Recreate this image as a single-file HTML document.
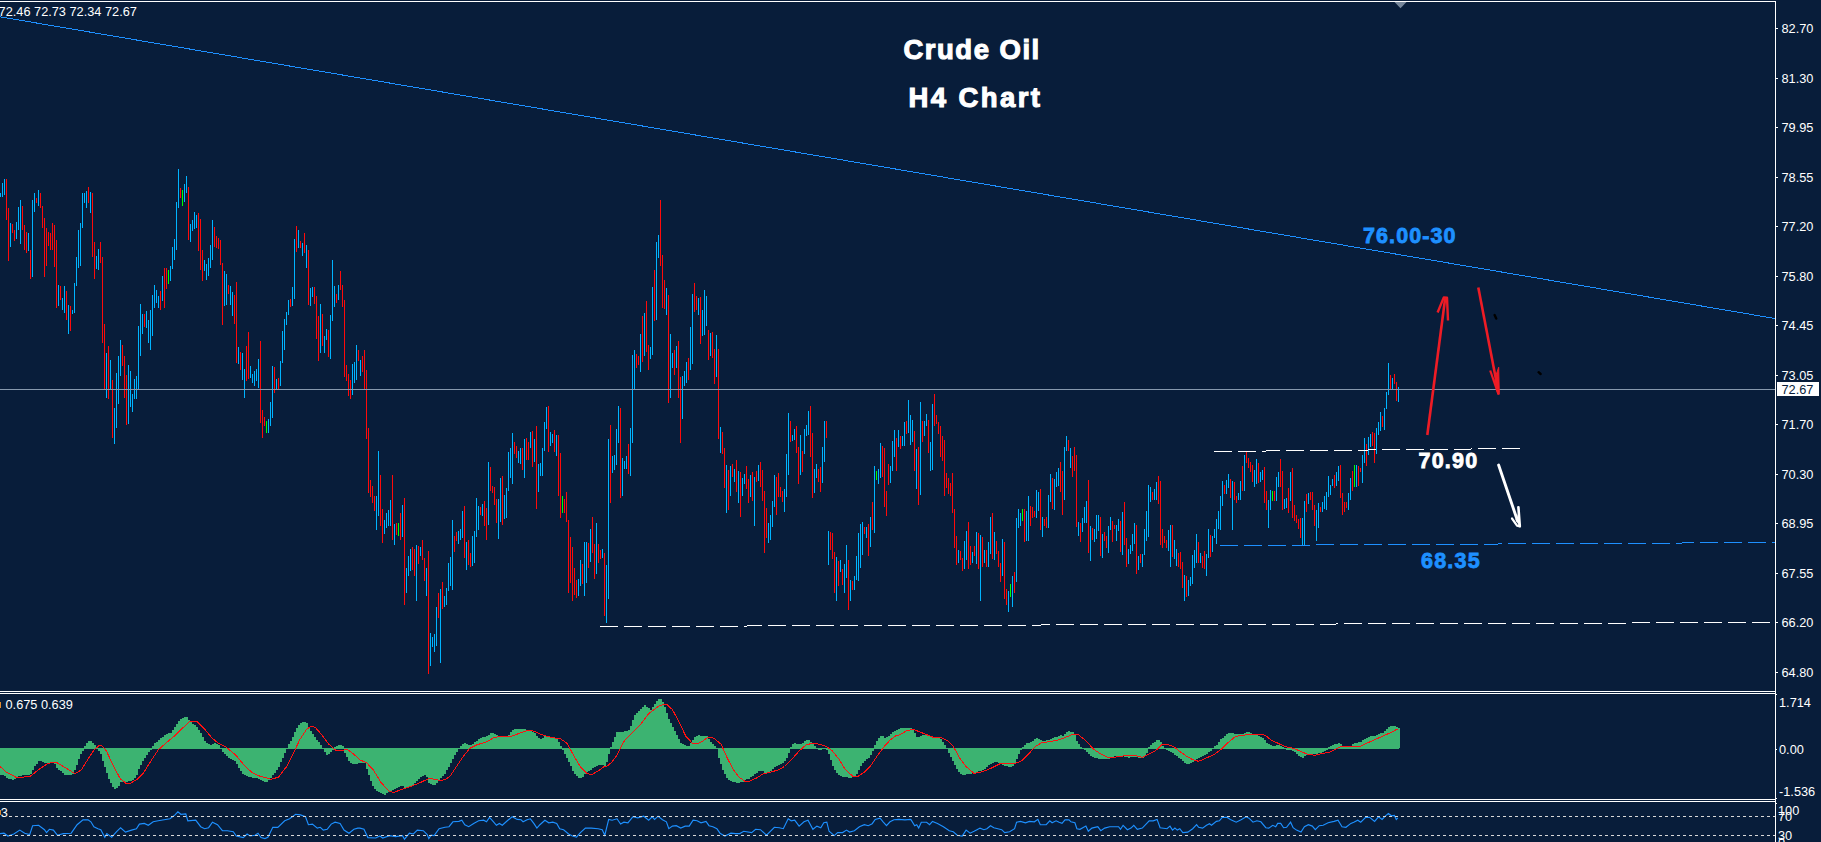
<!DOCTYPE html>
<html><head><meta charset="utf-8"><title>Crude Oil H4 Chart</title>
<style>
html,body{margin:0;padding:0;background:#081d3a;}
body{width:1821px;height:842px;overflow:hidden;position:relative;font-family:"Liberation Sans",sans-serif;}
svg{position:absolute;left:0;top:0;}
.ax{position:absolute;left:1781.5px;color:#fff;font-size:12.75px;line-height:14px;height:14px;white-space:nowrap;}
.t{position:absolute;white-space:nowrap;font-weight:bold;transform-origin:0 0;}
</style></head><body>

<svg width="1821" height="842" viewBox="0 0 1821 842">
<g shape-rendering="crispEdges" fill="#fff">
<rect x="0" y="1" width="1776" height="1"/>
<rect x="1775" y="1" width="1" height="842"/>
<rect x="0" y="691" width="1776" height="1"/>
<rect x="0" y="693" width="1776" height="1"/>
<rect x="0" y="799" width="1776" height="1"/>
<rect x="0" y="801" width="1776" height="1"/>
<rect x="1776" y="28" width="2" height="1"/>
<rect x="1776" y="78" width="2" height="1"/>
<rect x="1776" y="127" width="2" height="1"/>
<rect x="1776" y="177" width="2" height="1"/>
<rect x="1776" y="226" width="2" height="1"/>
<rect x="1776" y="276" width="2" height="1"/>
<rect x="1776" y="325" width="2" height="1"/>
<rect x="1776" y="375" width="2" height="1"/>
<rect x="1776" y="424" width="2" height="1"/>
<rect x="1776" y="474" width="2" height="1"/>
<rect x="1776" y="523" width="2" height="1"/>
<rect x="1776" y="573" width="2" height="1"/>
<rect x="1776" y="622" width="2" height="1"/>
<rect x="1776" y="672" width="2" height="1"/>
<rect x="1776" y="694" width="1" height="1"/>
<rect x="1776" y="749" width="1" height="1"/>
<rect x="1776" y="798" width="1" height="1"/>
<rect x="1776" y="803" width="1" height="1"/>
</g>
<g shape-rendering="crispEdges" fill="none" stroke-width="1" transform="translate(0.5,0)">
<path stroke="#00b4ff" d="M0 193v4M2 183v14M4 179v16M10 223v24M16 222v17M18 207v23M20 200v44M28 233v18M32 200v77M34 193v19M38 190v16M58 285v21M62 298v12M64 286v27M68 305v29M72 310v4M74 283v30M76 257v29M78 230v38M80 223v43M82 193v35M84 193v10M86 191v17M90 192v21M96 256v13M98 249v21M106 353v45M110 360v29M114 408v36M116 373v55M118 356v48M120 340v36M128 365v59M130 371v36M132 394v18M134 379v20M136 376v23M138 326v63M140 304v52M142 314v20M146 311v17M148 320v23M150 310v40M152 295v41M154 285v23M156 290v13M158 296v12M162 276v25M170 266v15M172 247v22M174 239v21M176 202v48M178 169v39M184 184v18M186 176v17M190 224v18M192 220v11M194 212v17M196 215v13M204 260v11M206 264v16M208 258v18M210 245v23M212 220v40M224 271v35M226 274v31M230 286v19M232 292v24M238 347v17M242 353v27M244 369v29M250 366v12M252 374v9M254 371v15M256 369v12M258 359v29M268 419v14M270 402v24M272 366v52M276 379v10M280 361v25M282 331v32M284 319v31M286 312v13M288 300v15M292 287v19M294 239v60M298 230v18M302 243v13M306 245v23M310 288v18M312 287v10M320 304v49M324 336v17M326 329v11M330 315v44M332 260v61M334 286v21M338 285v15M352 364v31M354 362v21M356 345v35M360 360v16M376 496v34M378 451v65M384 520v14M386 513v15M388 510v16M390 500v26M394 524v21M402 505v32M406 568v25M408 556v20M410 549v22M416 545v56M420 547v9M426 568v28M430 633v33M432 637v10M434 634v18M436 607v39M440 589v74M444 596v11M446 588v17M448 563v28M450 557v29M452 520v70M458 531v13M460 529v11M462 511v27M466 542v28M472 536v30M474 531v32M476 498v39M478 506v24M482 504v12M488 462v63M498 499v40M500 478v44M504 495v24M506 488v30M508 452v39M510 448v30M512 433v51M518 451v12M520 448v16M524 439v39M530 432v16M534 439v23M538 464v28M540 463v13M542 448v28M544 422v29M546 407v22M550 432v14M552 434v9M556 435v21M578 579v17M580 560v26M584 542v54M586 542v41M590 529v33M596 523v51M602 549v9M606 565v58M608 439v160M612 456v17M614 455v15M616 429v36M618 406v37M622 458v38M624 461v8M626 456v13M630 428v48M632 355v88M634 350v40M640 334v38M644 313v43M650 347v12M652 287v68M656 242v78M658 235v23M666 288v27M670 334v64M672 353v15M676 346v22M682 376v43M684 371v15M686 362v21M690 327v43M692 294v70M698 298v17M702 310v26M704 290v45M706 296v30M710 333v23M716 335v42M720 427v26M726 465v48M730 466v30M734 469v13M738 471v32M742 478v18M744 474v10M750 475v22M754 477v49M758 465v16M768 523v20M770 515v25M772 501v26M774 475v32M784 489v23M786 454v43M788 413v62M792 435v6M794 429v11M800 435v40M804 429v25M806 425v11M808 411v24M814 469v24M816 464v14M822 447v36M824 421v41M828 531v34M836 557v44M840 560v12M844 564v29M846 545v33M850 580v21M854 576v14M856 556v24M858 533v48M860 524v44M862 522v33M866 527v11M870 517v30M874 466v67M878 469v15M880 443v35M890 466v17M892 441v30M894 430v27M898 430v17M902 436v10M904 422v24M908 400v33M910 415v30M912 420v22M916 449v40M920 402v93M924 421v15M926 414v12M930 442v29M932 404v66M958 550v13M964 541v28M966 531v29M972 552v11M976 532v32M980 535v66M984 550v13M988 542v25M990 517v37M994 532v28M1002 539v37M1008 591v21M1012 576v31M1016 518v64M1018 509v19M1020 513v13M1026 511v30M1028 496v45M1036 490v28M1038 492v19M1042 517v20M1048 495v33M1050 474v28M1054 479v31M1056 472v15M1058 468v18M1064 447v53M1066 436v15M1070 448v20M1078 522v14M1082 518v14M1084 507v16M1086 501v22M1090 526v35M1094 529v13M1096 515v24M1098 515v16M1102 534v24M1108 526v27M1110 517v13M1116 525v16M1118 519v12M1122 512v43M1128 549v15M1130 545v9M1132 534v17M1134 523v21M1138 556v14M1142 554v13M1144 529v26M1146 511v30M1148 485v52M1150 487v15M1154 489v11M1156 482v18M1168 530v21M1170 525v42M1174 540v19M1176 549v17M1184 575v26M1188 580v16M1190 577v9M1192 555v29M1194 550v18M1196 534v29M1200 553v10M1206 554v22M1208 529v29M1212 536v16M1214 529v9M1216 519v25M1218 511v18M1220 496v34M1222 481v25M1226 480v14M1228 474v14M1232 481v49M1238 493v7M1240 481v19M1244 455v36M1254 470v17M1256 459v25M1260 472v10M1262 470v10M1268 500v28M1270 490v20M1276 477v24M1278 472v15M1284 499v10M1286 498v10M1290 472v29M1302 518v27M1304 501v44M1308 493v11M1316 510v31M1318 503v25M1322 502v10M1324 496v13M1326 492v18M1328 476v21M1330 485v10M1332 479v7M1336 472v14M1338 466v15M1348 493v17M1350 478v22M1356 465v22M1362 455v28M1364 438v25M1368 437v18M1370 434v13M1376 428v26M1378 422v13M1380 412v19M1384 408v22M1386 392v17M1388 363v32M1392 378v11M1398 387v15"/>
<path stroke="#ff0a0a" d="M6 179v41M8 208v53M12 224v9M14 230v11M22 206v24M24 225v25M26 232v21M30 250v29M36 198v5M40 193v15M42 206v22M44 218v59M46 228v38M48 232v14M50 233v17M52 223v27M54 225v42M56 240v68M60 286v14M66 291v29M70 306v25M88 187v16M92 193v64M94 242v37M100 242v21M102 257v86M104 324v65M108 346v53M112 380v58M122 345v21M124 356v42M126 375v50M144 314v13M160 291v19M164 268v40M166 268v21M180 188v10M188 187v53M198 213v38M200 219v51M202 250v31M214 227v20M216 236v12M218 238v11M220 240v25M222 263v62M228 285v9M234 295v29M236 282v81M240 352v18M246 346v35M248 332v47M260 341v82M262 410v28M264 417v9M274 367v26M278 378v11M290 299v8M296 226v26M300 241v7M304 233v20M308 250v55M314 287v17M316 296v43M318 316v45M322 314v32M328 330v27M336 294v9M340 271v19M342 285v22M344 300v77M346 365v16M348 374v22M350 380v19M358 350v11M362 356v16M364 350v39M366 370v69M368 428v65M370 480v17M372 486v17M374 496v15M380 475v51M382 509v34M392 475v65M396 523v12M400 513v27M404 498v107M412 547v23M414 549v27M418 546v18M422 540v20M424 558v23M428 551v123M438 593v25M442 582v27M454 536v16M456 532v9M464 506v52M468 540v25M470 553v14M480 507v8M484 501v25M486 508v32M490 467v24M492 486v7M494 487v18M496 499v24M502 476v49M514 442v12M516 446v12M522 448v22M526 438v22M528 442v18M532 431v36M536 426v83M548 406v46M554 430v22M558 435v61M560 453v65M564 499v14M566 492v30M568 520v73M570 537v46M572 547v54M574 568v27M576 580v18M582 564v20M588 543v25M592 517v36M594 544v35M598 544v19M600 550v9M604 553v63M610 425v78M620 408v90M628 444v30M636 354v14M638 356v9M642 316v46M646 301v51M648 345v25M654 270v51M660 200v66M662 255v53M664 280v29M668 295v108M674 350v25M678 341v57M680 377v66M688 358v22M694 283v29M696 296v14M700 297v47M708 330v30M712 332v26M714 349v35M718 349v90M722 432v22M724 448v40M728 470v40M732 464v13M736 460v32M740 472v45M746 466v23M748 479v24M752 472v29M756 471v11M760 462v25M762 470v31M764 491v62M766 508v30M776 477v38M778 473v24M780 487v10M782 491v11M790 421v21M796 426v27M798 447v37M802 451v21M810 406v51M812 433v65M818 469v13M820 467v25M826 421v17M830 532v18M832 533v26M834 552v41M838 561v25M842 569v16M848 560v50M852 581v9M864 527v7M868 524v32M872 502v28M882 446v31M884 448v59M886 491v25M888 464v21M896 438v33M900 436v13M906 421v13M914 431v40M918 447v58M922 421v21M928 420v33M934 394v32M936 415v9M938 422v12M940 426v31M942 436v25M944 440v56M946 473v15M948 478v16M950 483v13M952 473v40M954 509v39M956 536v29M960 551v9M962 558v13M968 522v47M970 546v19M974 546v10M978 533v36M982 537v30M986 550v17M992 513v46M996 541v13M998 551v16M1000 563v19M1004 542v57M1006 589v16M1014 572v21M1024 509v33M1030 506v20M1032 507v11M1034 511v6M1040 489v41M1044 519v7M1046 517v11M1052 478v31M1060 462v30M1062 471v44M1068 440v11M1072 456v21M1074 447v24M1076 455v72M1080 523v19M1088 480v73M1092 528v12M1100 517v39M1104 532v9M1106 536v12M1112 521v21M1114 525v4M1120 521v31M1124 502v43M1126 538v29M1136 525v49M1140 554v9M1152 492v8M1158 476v28M1160 481v64M1162 529v19M1164 536v7M1166 540v8M1172 525v32M1178 553v14M1180 552v17M1182 562v26M1186 576v21M1198 542v21M1202 556v12M1204 551v18M1210 535v22M1224 485v9M1230 479v19M1234 482v18M1236 496v7M1242 466v25M1246 452v11M1248 458v10M1250 462v10M1252 465v17M1258 463v20M1264 467v36M1266 491v19M1274 491v10M1280 459v28M1282 471v39M1288 488v25M1292 468v50M1294 505v16M1296 515v8M1298 519v10M1300 518v20M1306 494v18M1310 492v8M1312 492v18M1314 505v21M1320 507v5M1334 475v13M1340 465v33M1342 493v22M1344 502v10M1346 502v6M1352 471v20M1358 466v20M1360 468v4M1366 444v22M1372 432v14M1374 433v30M1382 416v11M1390 375v14M1394 374v10M1396 382v19"/>
<path stroke="#00ff00" d="M168 270v14M182 190v16M266 421v12M398 523v13M562 496v17M876 471v9M1010 584v13M1022 509v12M1272 491v10M1354 465v22"/>
</g>
<path shape-rendering="crispEdges" fill="#3cb371" d="M84 746h2V748h-2zM86 743h2V748h-2zM88 741h2V748h-2zM90 741h2V748h-2zM92 743h2V748h-2zM94 745h2V748h-2zM152 746h2V748h-2zM154 743h2V748h-2zM156 742h2V748h-2zM158 740h2V748h-2zM160 738h2V748h-2zM162 737h2V748h-2zM164 735h2V748h-2zM166 734h2V748h-2zM168 733h2V748h-2zM170 733h2V748h-2zM172 730h2V748h-2zM174 727h2V748h-2zM176 724h2V748h-2zM178 721h2V748h-2zM180 719h2V748h-2zM182 718h2V748h-2zM184 717h2V748h-2zM186 717h2V748h-2zM188 720h2V748h-2zM190 722h2V748h-2zM192 724h2V748h-2zM194 725h2V748h-2zM196 727h2V748h-2zM198 730h2V748h-2zM200 733h2V748h-2zM202 737h2V748h-2zM204 741h2V748h-2zM206 743h2V748h-2zM208 744h2V748h-2zM210 745h2V748h-2zM212 744h2V748h-2zM214 743h2V748h-2zM216 744h2V748h-2zM218 745h2V748h-2zM288 744h2V748h-2zM290 741h2V748h-2zM292 737h2V748h-2zM294 732h2V748h-2zM296 728h2V748h-2zM298 725h2V748h-2zM300 723h2V748h-2zM302 722h2V748h-2zM304 722h2V748h-2zM306 723h2V748h-2zM308 728h2V748h-2zM310 731h2V748h-2zM312 734h2V748h-2zM314 737h2V748h-2zM316 740h2V748h-2zM318 742h2V748h-2zM320 745h2V748h-2zM334 747h2V748h-2zM336 746h2V748h-2zM338 745h2V748h-2zM340 745h2V748h-2zM342 746h2V748h-2zM460 746h2V748h-2zM462 744h2V748h-2zM464 743h2V748h-2zM466 744h2V748h-2zM468 745h2V748h-2zM470 745h2V748h-2zM472 744h2V748h-2zM474 742h2V748h-2zM476 741h2V748h-2zM478 739h2V748h-2zM480 738h2V748h-2zM482 737h2V748h-2zM484 737h2V748h-2zM486 736h2V748h-2zM488 735h2V748h-2zM490 733h2V748h-2zM492 733h2V748h-2zM494 734h2V748h-2zM496 735h2V748h-2zM498 736h2V748h-2zM500 736h2V748h-2zM502 737h2V748h-2zM504 737h2V748h-2zM506 736h2V748h-2zM508 735h2V748h-2zM510 732h2V748h-2zM512 730h2V748h-2zM514 729h2V748h-2zM516 729h2V748h-2zM518 729h2V748h-2zM520 729h2V748h-2zM522 729h2V748h-2zM524 729h2V748h-2zM526 730h2V748h-2zM528 730h2V748h-2zM530 731h2V748h-2zM532 732h2V748h-2zM534 733h2V748h-2zM536 736h2V748h-2zM538 738h2V748h-2zM540 739h2V748h-2zM542 738h2V748h-2zM544 736h2V748h-2zM546 736h2V748h-2zM548 736h2V748h-2zM550 737h2V748h-2zM552 737h2V748h-2zM554 738h2V748h-2zM556 738h2V748h-2zM558 742h2V748h-2zM560 746h2V748h-2zM610 747h2V748h-2zM612 742h2V748h-2zM614 737h2V748h-2zM616 732h2V748h-2zM618 732h2V748h-2zM620 732h2V748h-2zM622 732h2V748h-2zM624 731h2V748h-2zM626 731h2V748h-2zM628 730h2V748h-2zM630 726h2V748h-2zM632 720h2V748h-2zM634 715h2V748h-2zM636 713h2V748h-2zM638 711h2V748h-2zM640 709h2V748h-2zM642 707h2V748h-2zM644 705h2V748h-2zM646 707h2V748h-2zM648 708h2V748h-2zM650 710h2V748h-2zM652 707h2V748h-2zM654 704h2V748h-2zM656 701h2V748h-2zM658 699h2V748h-2zM660 699h2V748h-2zM662 702h2V748h-2zM664 707h2V748h-2zM666 713h2V748h-2zM668 719h2V748h-2zM670 723h2V748h-2zM672 727h2V748h-2zM674 731h2V748h-2zM676 735h2V748h-2zM678 739h2V748h-2zM680 743h2V748h-2zM682 744h2V748h-2zM684 745h2V748h-2zM686 746h2V748h-2zM688 746h2V748h-2zM690 743h2V748h-2zM692 740h2V748h-2zM694 737h2V748h-2zM696 736h2V748h-2zM698 735h2V748h-2zM700 736h2V748h-2zM702 736h2V748h-2zM704 736h2V748h-2zM706 736h2V748h-2zM708 739h2V748h-2zM710 742h2V748h-2zM712 744h2V748h-2zM714 746h2V748h-2zM790 747h2V748h-2zM792 744h2V748h-2zM794 743h2V748h-2zM796 744h2V748h-2zM798 744h2V748h-2zM800 744h2V748h-2zM802 743h2V748h-2zM804 741h2V748h-2zM806 740h2V748h-2zM808 740h2V748h-2zM810 742h2V748h-2zM812 744h2V748h-2zM814 746h2V748h-2zM874 745h2V748h-2zM876 741h2V748h-2zM878 738h2V748h-2zM880 736h2V748h-2zM882 736h2V748h-2zM884 738h2V748h-2zM886 737h2V748h-2zM888 736h2V748h-2zM890 734h2V748h-2zM892 732h2V748h-2zM894 731h2V748h-2zM896 730h2V748h-2zM898 729h2V748h-2zM900 728h2V748h-2zM902 728h2V748h-2zM904 728h2V748h-2zM906 728h2V748h-2zM908 728h2V748h-2zM910 728h2V748h-2zM912 730h2V748h-2zM914 733h2V748h-2zM916 737h2V748h-2zM918 737h2V748h-2zM920 736h2V748h-2zM922 735h2V748h-2zM924 735h2V748h-2zM926 735h2V748h-2zM928 736h2V748h-2zM930 737h2V748h-2zM932 737h2V748h-2zM934 737h2V748h-2zM936 738h2V748h-2zM938 738h2V748h-2zM940 739h2V748h-2zM942 742h2V748h-2zM944 745h2V748h-2zM1022 747h2V748h-2zM1024 745h2V748h-2zM1026 743h2V748h-2zM1028 743h2V748h-2zM1030 742h2V748h-2zM1032 741h2V748h-2zM1034 739h2V748h-2zM1036 738h2V748h-2zM1038 739h2V748h-2zM1040 740h2V748h-2zM1042 741h2V748h-2zM1044 741h2V748h-2zM1046 740h2V748h-2zM1048 740h2V748h-2zM1050 739h2V748h-2zM1052 738h2V748h-2zM1054 737h2V748h-2zM1056 737h2V748h-2zM1058 736h2V748h-2zM1060 735h2V748h-2zM1062 736h2V748h-2zM1064 734h2V748h-2zM1066 732h2V748h-2zM1068 731h2V748h-2zM1070 732h2V748h-2zM1072 732h2V748h-2zM1074 734h2V748h-2zM1076 741h2V748h-2zM1078 744h2V748h-2zM1080 747h2V748h-2zM1148 747h2V748h-2zM1150 745h2V748h-2zM1152 743h2V748h-2zM1154 742h2V748h-2zM1156 740h2V748h-2zM1158 740h2V748h-2zM1160 742h2V748h-2zM1162 746h2V748h-2zM1214 746h2V748h-2zM1216 745h2V748h-2zM1218 742h2V748h-2zM1220 739h2V748h-2zM1222 738h2V748h-2zM1224 736h2V748h-2zM1226 734h2V748h-2zM1228 733h2V748h-2zM1230 733h2V748h-2zM1232 733h2V748h-2zM1234 734h2V748h-2zM1236 734h2V748h-2zM1238 734h2V748h-2zM1240 734h2V748h-2zM1242 734h2V748h-2zM1244 733h2V748h-2zM1246 732h2V748h-2zM1248 732h2V748h-2zM1250 733h2V748h-2zM1252 734h2V748h-2zM1254 735h2V748h-2zM1256 735h2V748h-2zM1258 736h2V748h-2zM1260 737h2V748h-2zM1262 738h2V748h-2zM1264 740h2V748h-2zM1266 743h2V748h-2zM1268 744h2V748h-2zM1270 745h2V748h-2zM1272 746h2V748h-2zM1274 746h2V748h-2zM1276 745h2V748h-2zM1278 745h2V748h-2zM1280 746h2V748h-2zM1282 747h2V748h-2zM1328 747h2V748h-2zM1330 746h2V748h-2zM1332 745h2V748h-2zM1334 744h2V748h-2zM1336 744h2V748h-2zM1338 743h2V748h-2zM1340 744h2V748h-2zM1342 746h2V748h-2zM1344 747h2V748h-2zM1346 746h2V748h-2zM1348 746h2V748h-2zM1350 746h2V748h-2zM1352 744h2V748h-2zM1354 743h2V748h-2zM1356 743h2V748h-2zM1358 742h2V748h-2zM1360 742h2V748h-2zM1362 740h2V748h-2zM1364 739h2V748h-2zM1366 738h2V748h-2zM1368 737h2V748h-2zM1370 736h2V748h-2zM1372 736h2V748h-2zM1374 736h2V748h-2zM1376 735h2V748h-2zM1378 734h2V748h-2zM1380 733h2V748h-2zM1382 733h2V748h-2zM1384 731h2V748h-2zM1386 729h2V748h-2zM1388 727h2V748h-2zM1390 726h2V748h-2zM1392 726h2V748h-2zM1394 726h2V748h-2zM1396 727h2V748h-2zM1398 728h2V748h-2zM0 748h2V775h-2zM2 748h2V775h-2zM4 748h2V776h-2zM6 748h2V778h-2zM8 748h2V779h-2zM10 748h2V779h-2zM12 748h2V780h-2zM14 748h2V779h-2zM16 748h2V777h-2zM18 748h2V776h-2zM20 748h2V776h-2zM22 748h2V775h-2zM24 748h2V775h-2zM26 748h2V775h-2zM28 748h2V775h-2zM30 748h2V774h-2zM32 748h2V770h-2zM34 748h2V766h-2zM36 748h2V764h-2zM38 748h2V761h-2zM40 748h2V761h-2zM42 748h2V762h-2zM44 748h2V763h-2zM46 748h2V763h-2zM48 748h2V763h-2zM50 748h2V763h-2zM52 748h2V763h-2zM54 748h2V764h-2zM56 748h2V768h-2zM58 748h2V770h-2zM60 748h2V771h-2zM62 748h2V773h-2zM64 748h2V775h-2zM66 748h2V775h-2zM68 748h2V775h-2zM70 748h2V775h-2zM72 748h2V774h-2zM74 748h2V770h-2zM76 748h2V765h-2zM78 748h2V759h-2zM80 748h2V754h-2zM82 748h2V751h-2zM98 748h2V751h-2zM100 748h2V754h-2zM102 748h2V761h-2zM104 748h2V767h-2zM106 748h2V773h-2zM108 748h2V779h-2zM110 748h2V783h-2zM112 748h2V787h-2zM114 748h2V789h-2zM116 748h2V788h-2zM118 748h2V786h-2zM120 748h2V782h-2zM122 748h2V782h-2zM124 748h2V782h-2zM126 748h2V782h-2zM128 748h2V781h-2zM130 748h2V781h-2zM132 748h2V780h-2zM134 748h2V778h-2zM136 748h2V775h-2zM138 748h2V769h-2zM140 748h2V765h-2zM142 748h2V761h-2zM144 748h2V758h-2zM146 748h2V755h-2zM148 748h2V752h-2zM150 748h2V750h-2zM222 748h2V752h-2zM224 748h2V754h-2zM226 748h2V756h-2zM228 748h2V758h-2zM230 748h2V759h-2zM232 748h2V760h-2zM234 748h2V761h-2zM236 748h2V764h-2zM238 748h2V768h-2zM240 748h2V771h-2zM242 748h2V774h-2zM244 748h2V775h-2zM246 748h2V776h-2zM248 748h2V777h-2zM250 748h2V777h-2zM252 748h2V778h-2zM254 748h2V778h-2zM256 748h2V778h-2zM258 748h2V779h-2zM260 748h2V780h-2zM262 748h2V781h-2zM264 748h2V782h-2zM266 748h2V782h-2zM268 748h2V780h-2zM270 748h2V778h-2zM272 748h2V775h-2zM274 748h2V773h-2zM276 748h2V770h-2zM278 748h2V767h-2zM280 748h2V762h-2zM282 748h2V758h-2zM284 748h2V753h-2zM324 748h2V752h-2zM326 748h2V755h-2zM328 748h2V754h-2zM330 748h2V752h-2zM332 748h2V750h-2zM344 748h2V753h-2zM346 748h2V757h-2zM348 748h2V761h-2zM350 748h2V763h-2zM352 748h2V764h-2zM354 748h2V764h-2zM356 748h2V764h-2zM358 748h2V763h-2zM360 748h2V763h-2zM362 748h2V763h-2zM364 748h2V763h-2zM366 748h2V769h-2zM368 748h2V775h-2zM370 748h2V781h-2zM372 748h2V786h-2zM374 748h2V789h-2zM376 748h2V791h-2zM378 748h2V792h-2zM380 748h2V793h-2zM382 748h2V794h-2zM384 748h2V795h-2zM386 748h2V793h-2zM388 748h2V792h-2zM390 748h2V791h-2zM392 748h2V790h-2zM394 748h2V789h-2zM396 748h2V788h-2zM398 748h2V787h-2zM400 748h2V786h-2zM402 748h2V786h-2zM404 748h2V788h-2zM406 748h2V787h-2zM408 748h2V787h-2zM410 748h2V786h-2zM412 748h2V785h-2zM414 748h2V783h-2zM416 748h2V781h-2zM418 748h2V779h-2zM420 748h2V777h-2zM422 748h2V776h-2zM424 748h2V775h-2zM426 748h2V777h-2zM428 748h2V783h-2zM430 748h2V784h-2zM432 748h2V785h-2zM434 748h2V785h-2zM436 748h2V783h-2zM438 748h2V780h-2zM440 748h2V778h-2zM442 748h2V776h-2zM444 748h2V774h-2zM446 748h2V770h-2zM448 748h2V767h-2zM450 748h2V763h-2zM452 748h2V759h-2zM454 748h2V755h-2zM456 748h2V752h-2zM562 748h2V750h-2zM564 748h2V754h-2zM566 748h2V758h-2zM568 748h2V762h-2zM570 748h2V766h-2zM572 748h2V771h-2zM574 748h2V774h-2zM576 748h2V776h-2zM578 748h2V778h-2zM580 748h2V778h-2zM582 748h2V777h-2zM584 748h2V774h-2zM586 748h2V772h-2zM588 748h2V771h-2zM590 748h2V770h-2zM592 748h2V768h-2zM594 748h2V767h-2zM596 748h2V766h-2zM598 748h2V765h-2zM600 748h2V765h-2zM602 748h2V765h-2zM604 748h2V767h-2zM606 748h2V762h-2zM608 748h2V754h-2zM718 748h2V758h-2zM720 748h2V764h-2zM722 748h2V770h-2zM724 748h2V774h-2zM726 748h2V778h-2zM728 748h2V780h-2zM730 748h2V781h-2zM732 748h2V782h-2zM734 748h2V782h-2zM736 748h2V783h-2zM738 748h2V783h-2zM740 748h2V782h-2zM742 748h2V782h-2zM744 748h2V780h-2zM746 748h2V779h-2zM748 748h2V779h-2zM750 748h2V777h-2zM752 748h2V776h-2zM754 748h2V774h-2zM756 748h2V773h-2zM758 748h2V771h-2zM760 748h2V771h-2zM762 748h2V771h-2zM764 748h2V773h-2zM766 748h2V773h-2zM768 748h2V773h-2zM770 748h2V771h-2zM772 748h2V769h-2zM774 748h2V767h-2zM776 748h2V766h-2zM778 748h2V765h-2zM780 748h2V764h-2zM782 748h2V763h-2zM784 748h2V761h-2zM786 748h2V758h-2zM788 748h2V753h-2zM818 748h2V750h-2zM820 748h2V750h-2zM826 748h2V750h-2zM828 748h2V754h-2zM830 748h2V760h-2zM832 748h2V766h-2zM834 748h2V770h-2zM836 748h2V773h-2zM838 748h2V775h-2zM840 748h2V776h-2zM842 748h2V777h-2zM844 748h2V777h-2zM846 748h2V777h-2zM848 748h2V778h-2zM850 748h2V778h-2zM852 748h2V777h-2zM854 748h2V776h-2zM856 748h2V774h-2zM858 748h2V770h-2zM860 748h2V766h-2zM862 748h2V763h-2zM864 748h2V761h-2zM866 748h2V759h-2zM868 748h2V758h-2zM870 748h2V755h-2zM872 748h2V751h-2zM948 748h2V753h-2zM950 748h2V757h-2zM952 748h2V761h-2zM954 748h2V765h-2zM956 748h2V769h-2zM958 748h2V772h-2zM960 748h2V774h-2zM962 748h2V775h-2zM964 748h2V775h-2zM966 748h2V774h-2zM968 748h2V774h-2zM970 748h2V774h-2zM972 748h2V773h-2zM974 748h2V773h-2zM976 748h2V772h-2zM978 748h2V771h-2zM980 748h2V771h-2zM982 748h2V770h-2zM984 748h2V769h-2zM986 748h2V767h-2zM988 748h2V765h-2zM990 748h2V764h-2zM992 748h2V763h-2zM994 748h2V762h-2zM996 748h2V762h-2zM998 748h2V763h-2zM1000 748h2V763h-2zM1002 748h2V765h-2zM1004 748h2V766h-2zM1006 748h2V766h-2zM1008 748h2V767h-2zM1010 748h2V767h-2zM1012 748h2V766h-2zM1014 748h2V764h-2zM1016 748h2V759h-2zM1018 748h2V754h-2zM1020 748h2V750h-2zM1084 748h2V750h-2zM1086 748h2V752h-2zM1088 748h2V754h-2zM1090 748h2V756h-2zM1092 748h2V757h-2zM1094 748h2V758h-2zM1096 748h2V758h-2zM1098 748h2V759h-2zM1100 748h2V759h-2zM1102 748h2V759h-2zM1104 748h2V759h-2zM1106 748h2V759h-2zM1108 748h2V759h-2zM1110 748h2V758h-2zM1112 748h2V757h-2zM1114 748h2V756h-2zM1116 748h2V756h-2zM1118 748h2V756h-2zM1120 748h2V756h-2zM1122 748h2V756h-2zM1124 748h2V757h-2zM1126 748h2V757h-2zM1128 748h2V758h-2zM1130 748h2V757h-2zM1132 748h2V757h-2zM1134 748h2V757h-2zM1136 748h2V757h-2zM1138 748h2V758h-2zM1140 748h2V758h-2zM1142 748h2V758h-2zM1144 748h2V756h-2zM1146 748h2V753h-2zM1166 748h2V750h-2zM1168 748h2V751h-2zM1170 748h2V752h-2zM1172 748h2V753h-2zM1174 748h2V755h-2zM1176 748h2V756h-2zM1178 748h2V758h-2zM1180 748h2V759h-2zM1182 748h2V761h-2zM1184 748h2V763h-2zM1186 748h2V764h-2zM1188 748h2V764h-2zM1190 748h2V763h-2zM1192 748h2V762h-2zM1194 748h2V761h-2zM1196 748h2V759h-2zM1198 748h2V758h-2zM1200 748h2V757h-2zM1202 748h2V756h-2zM1204 748h2V755h-2zM1206 748h2V754h-2zM1208 748h2V752h-2zM1210 748h2V751h-2zM1286 748h2V750h-2zM1288 748h2V750h-2zM1290 748h2V750h-2zM1292 748h2V751h-2zM1294 748h2V752h-2zM1296 748h2V754h-2zM1298 748h2V756h-2zM1300 748h2V757h-2zM1302 748h2V758h-2zM1304 748h2V756h-2zM1306 748h2V755h-2zM1308 748h2V755h-2zM1310 748h2V755h-2zM1312 748h2V754h-2zM1314 748h2V754h-2zM1316 748h2V754h-2zM1318 748h2V753h-2zM1320 748h2V753h-2zM1322 748h2V752h-2zM1324 748h2V751h-2zM1326 748h2V750h-2z"/>
<rect shape-rendering="crispEdges" x="0" y="748" width="1399" height="1" fill="#3cb371"/>
<polyline fill="none" stroke="#ff1010" stroke-width="1" shape-rendering="crispEdges" points="0.0,766.5 6.6,772.3 16.5,777.5 23.1,777.2 30.5,776.0 39.5,769.0 47.8,763.5 51.9,762.4 56.8,762.5 65.9,768.1 75.0,773.6 81.5,769.8 89.0,757.4 94.7,749.2 98.8,745.9 102.1,745.9 106.3,750.8 113.7,766.5 120.3,778.8 126.0,783.3 130.1,783.3 136.7,779.7 143.3,773.1 151.6,759.9 158.2,750.0 166.4,742.6 174.6,736.0 182.9,727.8 189.5,721.7 196.9,721.3 204.3,728.6 211.7,737.7 217.5,742.6 225.7,746.7 235.6,755.0 243.8,764.8 252.1,772.7 260.3,776.4 266.9,778.0 271.0,779.3 278.4,777.2 286.7,766.5 294.9,750.0 300.0,739.3 306.6,729.4 311.5,726.1 315.7,727.8 321.4,734.4 328.8,744.2 335.4,750.0 340.4,750.3 347.8,749.7 352.7,753.3 360.1,759.9 366.7,762.9 373.3,769.8 380.7,782.1 389.0,791.2 393.9,792.5 402.1,789.2 412.0,785.9 420.3,782.6 429.3,778.3 435.1,779.3 440.0,780.5 445.0,779.7 449.9,776.4 456.5,766.5 463.1,756.6 469.7,748.4 477.1,744.7 486.2,742.1 494.4,737.2 502.6,736.5 512.5,736.0 520.8,732.7 528.2,730.2 533.9,731.1 542.2,734.9 552.1,737.7 560.3,738.5 566.9,743.4 573.5,755.0 580.1,766.5 586.7,773.4 591.6,774.7 600.0,769.8 604.1,766.5 606.6,766.5 611.5,762.4 616.5,755.8 624.7,740.1 632.9,731.9 641.2,723.7 648.6,713.8 655.2,708.8 660.1,705.2 666.7,704.4 672.5,709.7 679.1,722.0 685.7,736.0 692.3,743.1 698.0,743.4 703.0,741.0 707.9,737.2 713.7,738.2 721.1,744.2 726.9,757.4 733.4,769.8 739.2,777.2 745.0,781.3 749.9,781.0 756.5,778.0 763.1,773.9 769.7,772.3 777.9,770.1 784.5,766.5 791.9,759.1 799.3,750.8 805.9,745.1 812.5,743.1 819.1,744.2 826.5,746.4 832.3,750.8 838.9,759.1 845.5,769.8 852.9,776.4 857.8,776.4 863.6,772.7 870.2,766.5 876.8,756.6 883.4,747.5 890.0,740.1 896.5,735.2 900.0,734.9 906.6,730.6 913.2,729.4 919.8,731.9 928.0,735.2 932.9,737.2 940.4,737.2 947.8,741.0 953.5,746.7 959.3,757.4 965.9,766.5 974.1,773.4 982.4,771.8 990.6,768.5 1000.5,763.5 1007.1,763.2 1013.7,764.0 1021.9,760.7 1028.5,754.1 1035.1,746.7 1041.7,742.6 1048.3,741.8 1056.5,740.5 1064.7,737.7 1071.3,734.9 1078.7,734.9 1086.2,741.0 1093.6,749.2 1101.0,754.1 1107.6,757.1 1115.8,757.1 1124.1,755.8 1133.9,755.3 1142.2,757.4 1148.8,754.1 1155.4,750.8 1161.9,744.7 1166.9,744.2 1173.5,746.4 1180.1,751.7 1186.7,756.3 1193.2,759.9 1198.2,761.2 1200.0,760.7 1206.6,757.9 1214.8,754.1 1221.4,749.2 1228.0,742.6 1235.4,736.5 1242.8,735.2 1252.7,734.2 1261.0,734.4 1265.1,735.2 1270.8,739.8 1279.1,743.8 1286.5,747.0 1293.9,748.4 1300.5,751.3 1307.1,754.1 1315.3,755.3 1321.9,753.6 1330.1,752.0 1336.7,748.7 1341.7,746.4 1351.6,746.7 1360.6,746.4 1366.4,743.4 1374.6,739.8 1382.9,736.0 1389.5,733.2 1397.7,728.9"/>
<polyline fill="none" stroke="#1e90ff" stroke-width="1.15" points="0.0,833.6 4.0,833.2 7.9,836.0 13.8,834.0 19.8,830.1 24.7,833.2 29.7,834.6 32.6,825.7 38.6,825.3 44.5,829.7 46.5,832.6 49.4,829.3 53.4,830.1 57.3,835.2 63.3,833.6 71.2,833.2 77.1,824.7 83.0,819.8 88.0,819.8 90.9,821.8 93.9,826.7 97.9,828.7 100.8,829.7 104.8,837.2 106.8,833.6 111.7,837.2 116.6,831.7 120.6,827.7 125.5,832.1 131.5,830.1 136.4,828.7 139.4,824.1 144.3,823.4 148.3,825.3 153.2,821.8 158.2,820.8 164.1,819.8 170.0,818.8 175.0,814.9 177.9,811.9 180.9,814.3 185.8,813.9 187.8,820.8 195.7,820.2 200.7,826.7 204.6,828.7 208.6,827.7 212.5,822.2 217.5,824.7 222.4,830.7 227.4,830.7 233.3,831.7 236.3,836.0 243.2,837.6 247.1,834.0 250.1,836.0 255.0,835.2 258.0,833.2 261.0,837.6 264.9,838.6 267.9,837.2 272.8,827.3 277.8,827.3 284.7,820.8 289.6,818.8 295.6,814.3 300.5,814.9 305.5,816.8 308.4,824.7 312.4,824.1 317.3,828.1 320.3,827.3 323.3,830.1 327.2,829.3 331.2,824.1 335.1,822.2 340.1,823.4 344.0,830.1 349.0,833.2 353.9,829.3 357.8,828.1 360.0,828.1 364.0,829.3 367.9,837.6 375.8,838.0 379.8,836.0 382.7,838.0 389.7,835.6 395.6,836.6 402.5,835.6 404.5,839.2 409.4,833.2 413.4,834.0 417.3,830.1 423.3,830.7 427.2,834.6 428.8,838.6 431.2,835.2 434.1,835.6 439.1,828.7 445.0,827.3 449.0,826.7 452.9,821.8 458.9,821.4 461.8,820.2 464.8,824.7 468.7,826.7 473.7,823.4 478.6,820.8 483.6,820.2 486.5,821.8 489.5,817.4 493.5,821.8 496.4,825.3 499.4,823.4 502.3,825.3 507.3,820.8 512.2,816.8 517.2,819.4 521.1,819.8 523.1,821.8 527.1,819.8 530.4,818.8 534.0,823.7 536.9,828.1 539.9,824.7 544.9,820.2 548.8,822.8 552.8,822.2 556.7,823.4 559.7,828.7 563.6,829.7 568.6,834.0 572.5,836.0 576.5,837.2 580.4,832.6 585.4,828.1 591.3,828.1 598.2,828.7 602.2,829.7 604.8,835.2 608.7,819.4 612.1,820.2 617.0,818.8 620.6,824.1 623.9,822.2 627.9,822.8 632.8,816.8 637.8,817.8 643.7,816.2 648.7,820.2 652.2,816.8 654.6,819.4 658.1,816.2 662.5,819.8 666.4,821.8 668.8,828.7 672.4,826.1 676.3,825.7 680.7,828.1 685.2,826.1 689.2,826.1 693.1,820.2 697.1,820.8 701.0,822.8 706.0,821.4 709.0,825.7 712.9,826.7 716.9,828.7 720.0,833.2 724.9,836.0 730.9,833.2 735.8,833.6 739.8,833.6 743.7,831.3 751.6,832.6 755.6,829.3 760.5,829.7 766.5,835.2 774.4,827.3 779.3,827.7 783.3,828.7 788.2,818.8 791.2,820.8 794.7,820.2 799.1,826.1 804.0,821.8 808.0,820.2 812.9,829.3 816.9,826.1 820.8,827.7 823.8,822.8 826.8,822.2 829.1,831.3 834.3,835.6 837.6,832.6 842.6,832.6 846.5,830.1 849.5,832.1 854.4,830.7 859.4,826.7 864.3,824.7 868.3,825.7 872.2,823.7 875.2,819.4 880.1,818.2 883.1,821.8 886.5,825.7 890.0,821.8 894.0,819.8 898.9,819.4 904.9,819.8 910.8,819.4 914.7,825.7 916.7,824.7 918.7,828.1 921.3,822.2 926.6,822.2 929.6,824.7 932.5,821.4 937.5,823.4 943.4,826.7 949.3,830.7 953.3,831.7 957.2,835.2 962.2,836.0 966.1,830.1 970.1,833.2 974.1,831.3 977.0,829.7 980.0,828.1 983.9,829.7 986.9,828.7 990.5,825.7 993.8,827.7 997.8,828.7 1001.7,829.7 1004.7,832.6 1009.6,831.7 1014.6,828.7 1016.6,822.2 1020.5,821.4 1025.5,822.8 1029.4,821.4 1034.4,821.8 1037.9,819.4 1040.3,824.7 1046.2,824.7 1049.8,820.8 1052.1,822.8 1056.1,820.8 1059.1,822.2 1062.0,823.4 1065.0,819.8 1069.0,819.8 1070.9,821.8 1074.9,822.8 1076.9,828.7 1080.0,829.3 1085.9,826.1 1088.3,831.3 1091.9,828.1 1097.8,826.7 1100.8,830.7 1104.7,828.1 1109.7,826.7 1118.6,826.7 1120.5,829.3 1123.1,825.3 1127.4,829.7 1131.0,828.1 1133.8,825.3 1137.3,829.3 1142.3,828.1 1149.2,820.8 1153.2,820.8 1157.1,819.4 1160.1,827.7 1167.0,828.7 1170.0,826.1 1172.5,830.1 1174.9,828.1 1177.3,830.1 1179.8,828.7 1182.8,832.6 1187.8,832.1 1192.7,828.7 1196.6,824.7 1198.6,827.3 1202.6,828.1 1206.5,825.3 1209.5,823.7 1211.5,825.3 1216.4,821.4 1219.4,820.8 1222.3,817.4 1227.3,817.4 1230.3,819.4 1236.2,822.2 1241.1,819.8 1246.1,816.8 1249.0,818.2 1253.0,822.2 1256.9,820.8 1260.9,821.8 1265.8,827.7 1268.8,828.1 1272.8,825.3 1275.7,826.7 1277.7,823.4 1280.7,823.4 1283.6,827.7 1286.6,827.3 1290.6,822.2 1293.1,827.7 1296.5,830.1 1301.0,832.1 1304.4,826.7 1308.4,824.7 1312.3,826.1 1315.3,829.7 1319.2,825.7 1323.2,825.3 1328.1,822.8 1334.1,821.4 1338.0,820.2 1342.0,826.7 1345.9,827.3 1350.9,823.4 1353.8,822.2 1357.8,820.2 1360.7,822.2 1365.7,817.4 1369.6,817.4 1374.6,821.4 1378.5,816.8 1382.1,819.4 1385.5,815.8 1388.4,813.5 1391.4,815.8 1394.4,815.4 1396.3,819.4 1397.9,817.8"/>

<g shape-rendering="crispEdges">
<rect x="0" y="389" width="1775" height="1" fill="#8799ae"/>
<rect x="1777" y="382" width="42" height="14" fill="#fff"/>
</g>
<line x1="0" y1="16.8" x2="1775" y2="318.5" stroke="#1e90ff" stroke-width="1" shape-rendering="crispEdges"/>
<g shape-rendering="crispEdges" fill="none" stroke-width="1">
<path fill="#fff" stroke="none" d="M600 626h18v1h-18zM624 626h18v1h-18zM648 626h18v1h-18zM672 626h18v1h-18zM696 626h18v1h-18zM720 626h18v1h-18zM744 626h3v1h-3zM747 625h15v1h-15zM768 625h18v1h-18zM792 625h18v1h-18zM816 625h18v1h-18zM840 625h18v1h-18zM864 625h18v1h-18zM888 625h18v1h-18zM912 625h18v1h-18zM936 625h18v1h-18zM960 625h18v1h-18zM984 625h18v1h-18zM1008 625h18v1h-18zM1032 625h9v1h-9zM1041 624h9v1h-9zM1056 624h18v1h-18zM1080 624h18v1h-18zM1104 624h18v1h-18zM1128 624h18v1h-18zM1152 624h18v1h-18zM1176 624h18v1h-18zM1200 624h18v1h-18zM1224 624h18v1h-18zM1248 624h18v1h-18zM1272 624h18v1h-18zM1296 624h18v1h-18zM1320 624h16v1h-16zM1336 623h2v1h-2zM1344 623h18v1h-18zM1368 623h18v1h-18zM1392 623h18v1h-18zM1416 623h18v1h-18zM1440 623h18v1h-18zM1464 623h18v1h-18zM1488 623h18v1h-18zM1512 623h18v1h-18zM1536 623h18v1h-18zM1560 623h18v1h-18zM1584 623h18v1h-18zM1608 623h18v1h-18zM1632 622h18v1h-18zM1656 622h18v1h-18zM1680 622h18v1h-18zM1704 622h18v1h-18zM1728 622h18v1h-18zM1752 622h18v1h-18z"/><path fill="#fff" stroke="none" d="M1214 451h18v1h-18zM1238 451h18v1h-18zM1262 451h4v1h-4zM1266 450h14v1h-14zM1286 450h18v1h-18zM1310 450h18v1h-18zM1334 450h18v1h-18zM1358 450h10v1h-10zM1368 449h8v1h-8zM1382 449h18v1h-18zM1406 449h18v1h-18zM1430 449h18v1h-18zM1454 449h17v1h-17zM1471 448h1v1h-1zM1478 448h18v1h-18zM1502 448h18v1h-18z"/><path fill="#1e90ff" stroke="none" d="M1220 545h18v1h-18zM1244 545h18v1h-18zM1268 545h18v1h-18zM1292 545h18v1h-18zM1316 544h18v1h-18zM1340 544h18v1h-18zM1364 544h18v1h-18zM1388 544h18v1h-18zM1412 544h18v1h-18zM1436 544h18v1h-18zM1460 544h18v1h-18zM1484 544h14v1h-14zM1498 543h4v1h-4zM1508 543h18v1h-18zM1532 543h18v1h-18zM1556 543h18v1h-18zM1580 543h18v1h-18zM1604 543h18v1h-18zM1628 543h18v1h-18zM1652 543h18v1h-18zM1676 543h6v1h-6zM1682 542h12v1h-12zM1700 542h18v1h-18zM1724 542h18v1h-18zM1748 542h18v1h-18zM1772 542h3v1h-3z"/>
<line x1="0" y1="816.5" x2="1775" y2="816.5" stroke="#d8d8d8" stroke-dasharray="3 3" stroke-dashoffset="3"/>
<line x1="0" y1="835.5" x2="1775" y2="835.5" stroke="#d8d8d8" stroke-dasharray="3 3" stroke-dashoffset="3"/>
</g>
<g stroke="#ee1c25" stroke-width="2.6" fill="none" stroke-linecap="butt" stroke-linejoin="round">
<path d="M1427.3 435 L1445.2 298"/>
<path d="M1437.6 312.5 L1443.8 297.4 L1447 297.6 L1448 320.5" stroke-width="2.4"/>
<path d="M1478.3 287.5 L1498.4 392"/>
<path d="M1490.2 370.5 L1497.8 392.5" stroke-width="2.2"/><path d="M1496 375 L1498.7 367.2 L1499.3 394.3 L1497.6 394.3 Z" fill="#ee1c25" stroke-width="1"/><path d="M1494.5 380 L1498 392 L1497.5 376 Z" fill="#ee1c25" stroke-width="0.5"/>
</g>
<g stroke="#fff" fill="none" stroke-linecap="round" stroke-linejoin="round">
<path d="M1498.6 465 L1517.6 521" stroke-width="2.9"/>
<path d="M1512 518.5 L1517 525.6 L1520 526.4" stroke-width="2.2"/>
<path d="M1518.4 507.2 L1519.8 526" stroke-width="2.6"/>
<path d="M1516 520 L1519 525 L1518.6 514 Z" fill="#fff" stroke-width="0.6"/>
</g>
<path d="M1494.6 315 L1496.2 318.6 M1538.6 372.2 L1540.6 374" stroke="#000" stroke-width="2.4" stroke-linecap="round"/>
<path d="M1394.5 2 L1406.5 2 L1400.5 8.2 Z" fill="#77879b"/>
<rect x="0" y="702" width="1" height="6" fill="#e08a30" shape-rendering="crispEdges"/>

</svg>
<div class="ax" style="top:22px">82.70</div>
<div class="ax" style="top:72px">81.30</div>
<div class="ax" style="top:121px">79.95</div>
<div class="ax" style="top:171px">78.55</div>
<div class="ax" style="top:220px">77.20</div>
<div class="ax" style="top:270px">75.80</div>
<div class="ax" style="top:319px">74.45</div>
<div class="ax" style="top:369px">73.05</div>
<div class="ax" style="top:418px">71.70</div>
<div class="ax" style="top:468px">70.30</div>
<div class="ax" style="top:517px">68.95</div>
<div class="ax" style="top:567px">67.55</div>
<div class="ax" style="top:616px">66.20</div>
<div class="ax" style="top:666px">64.80</div>
<div class="ax" style="top:696px;left:1779px">1.714</div>
<div class="ax" style="top:743px;left:1779px">0.00</div>
<div class="ax" style="top:785px;left:1779px">-1.536</div>
<div class="ax" style="top:804px;left:1778px">100</div>
<div class="ax" style="top:810px;left:1778px">70</div>
<div class="ax" style="top:829px;left:1778px">30</div>
<div class="ax" style="top:836px;left:1778px">0</div>
<div class="ax" style="top:383px;left:1781.5px;color:#081d3a">72.67</div>
<div class="ax" style="top:5px;left:-1.4px;font-size:12.75px">72.46 72.73 72.34 72.67</div>
<div class="ax" style="top:698px;left:5.5px;">0.675 0.639</div>
<div class="ax" style="top:806px;left:0px;width:9px;background:#081d3a;text-indent:0.8px">3</div>
<div class="t" style="left:903.5px;top:33px;font-size:27.5px;line-height:34px;color:#fff;letter-spacing:1.5px;-webkit-text-stroke:1.1px #fff">Crude Oil</div>
<div class="t" style="left:908.5px;top:81px;font-size:27.5px;line-height:34px;color:#fff;letter-spacing:2.4px;-webkit-text-stroke:1.1px #fff">H4 Chart</div>
<div class="t" style="left:1363px;top:224px;font-size:21.5px;line-height:24px;color:#1e90ff;letter-spacing:1.1px;-webkit-text-stroke:0.8px #1e90ff">76.00-30</div>
<div class="t" style="left:1418.5px;top:449px;font-size:21.5px;line-height:24px;color:#fff;letter-spacing:1.2px;-webkit-text-stroke:0.8px #fff">70.90</div>
<div class="t" style="left:1421px;top:549px;font-size:21.5px;line-height:24px;color:#1e90ff;letter-spacing:1.2px;-webkit-text-stroke:0.8px #1e90ff">68.35</div>
<div style="position:absolute;left:0;top:810px;width:1px;height:5px;background:#e08a30"></div>
</body></html>
